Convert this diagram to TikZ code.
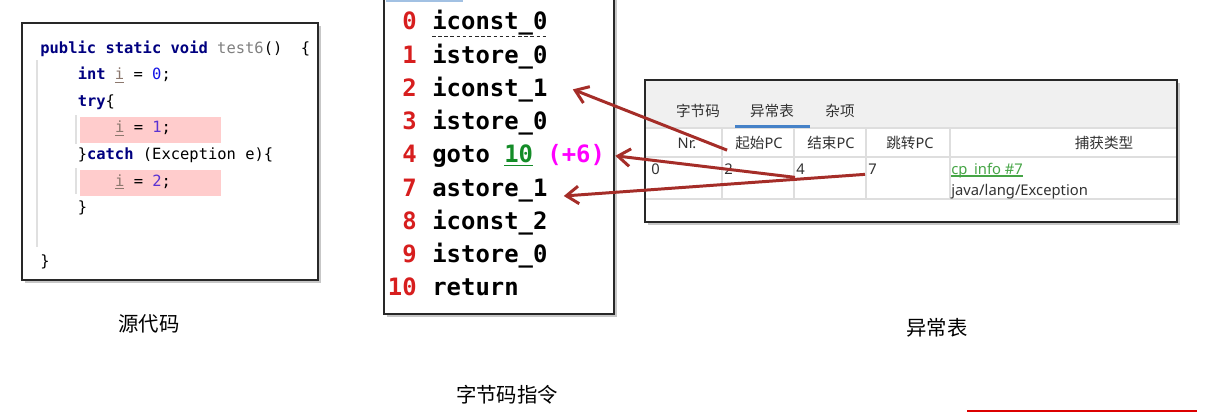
\documentclass[tikz,border=0pt]{standalone}
\usepackage{fontspec}
\usepackage{xcolor}
\setmainfont{Noto Sans}
\newfontfamily\cjk{Noto Sans CJK SC}
\newfontfamily\codefont{DejaVu Sans Mono}
\usetikzlibrary{arrows.meta,positioning,calc}
\definecolor{boxline}{RGB}{40,40,40}
\definecolor{kwblue}{RGB}{0,0,128}
\definecolor{numblue}{RGB}{20,20,230}
\definecolor{numpurple}{RGB}{90,50,210}
\definecolor{varbrown}{RGB}{140,120,110}
\definecolor{hlred}{RGB}{255,204,204}
\definecolor{bcred}{RGB}{215,30,30}
\definecolor{gotogreen}{RGB}{20,140,40}
\definecolor{offsetpink}{RGB}{255,0,255}
\definecolor{arrowred}{RGB}{165,45,40}
\definecolor{tabgray}{RGB}{240,240,240}
\definecolor{gridgray}{RGB}{222,222,222}
\definecolor{tabblue}{RGB}{70,130,200}
\definecolor{linkgreen}{RGB}{70,165,70}
\definecolor{tabtext}{RGB}{50,50,50}
\definecolor{markred}{RGB}{220,0,0}
\tikzset{
  panel/.style={draw=boxline, line width=1.6pt},
  panelshadow/.style={fill=black!22},
  src/.style={anchor=base west, inner sep=0pt,
              font=\codefont\fontsize{8.8}{10}\selectfont},
  bcnum/.style={anchor=base east, inner sep=0pt, text=bcred,
                font=\codefont\bfseries\fontsize{13.6}{16}\selectfont},
  bcins/.style={anchor=base west, inner sep=0pt,
                font=\codefont\bfseries\fontsize{13.6}{16}\selectfont},
  tablabel/.style={inner sep=0pt, text=tabtext, font=\cjk\fontsize{8.3}{10}\selectfont},
  hdr/.style={inner sep=0pt, text=tabtext, font=\fontsize{8.3}{10}\selectfont},
  tcell/.style={anchor=base west, inner sep=0pt, text=tabtext,
                font=\fontsize{8.4}{10}\selectfont},
  captext/.style={inner sep=0pt, font=\cjk\fontsize{11.6}{14}\selectfont},
  arr/.style={-{Straight Barb[length=7pt,width=10pt]}, line width=1.7pt, arrowred},
  gridline/.style={draw=gridgray, line width=1pt},
}
\begin{document}
\begin{tikzpicture}[x=0.02cm, y=-0.02cm]
  \useasboundingbox (0,0) rectangle (1230,419);

  % source code
  \fill[panelshadow] (25,26) rectangle (321,283);
  \fill[white] (22,23) rectangle (318,280);
  \fill[hlred] (80,117) rectangle (221,143);
  \fill[hlred] (80,170) rectangle (221,196);
  \draw[black!12, line width=0.6pt] (37,60) -- (37,247);
  \draw[black!12, line width=0.6pt] (76,115) -- (76,144) (76,168) -- (76,194);
  \draw[panel] (22,23) rectangle (318,280);
  \node[src] (sig) at (40,53)
        {\textcolor{kwblue}{\bfseries public static void} \textcolor{gray}{test6}()\ \ \{};
  \node[src] (decl) at (77.4,79.6)
        {\textcolor{kwblue}{\bfseries int} \textcolor{varbrown}{\underline{i}} = \textcolor{numblue}{0};};
  \node[src] (try) at (77.4,106.2) {\textcolor{kwblue}{\bfseries try}\{};
  \node[src] (set1) at (114.8,132.8)
        {\textcolor{varbrown}{\underline{i}} = \textcolor{numpurple}{1};};
  \node[src] (catch) at (77.4,159.4)
        {\}\textcolor{kwblue}{\bfseries catch} (Exception e)\{};
  \node[src] (set2) at (114.8,186)
        {\textcolor{varbrown}{\underline{i}} = \textcolor{numpurple}{2};};
  \node[src] (close1) at (77.4,212.6) {\}};
  \node[src] (close2) at (40,266) {\}};
  \node[captext] (srccap) at (149,324) {源代码};

  % bytecode
  \fill[panelshadow] (387,-5) rectangle (617,317);
  \fill[white] (384,-8) rectangle (614,314);
  \draw[panel] (384,-8) rectangle (614,314);
  \draw[tabblue!50, line width=1.2pt] (386,0.6) -- (463,0.6);
  \node[bcnum] (pc0) at (417,30) {0};
  \node[bcins] (op0) at (432,30) {iconst\_0};
  \node[bcnum] (pc1) at (417,63.2) {1};
  \node[bcins] (op1) at (432,63.2) {istore\_0};
  \node[bcnum] (pc2) at (417,96.4) {2};
  \node[bcins] (op2) at (432,96.4) {iconst\_1};
  \node[bcnum] (pc3) at (417,129.6) {3};
  \node[bcins] (op3) at (432,129.6) {istore\_0};
  \node[bcnum] (pc4) at (417,162.8) {4};
  \node[bcins] (op4) at (432,162.8)
        {goto \textcolor{gotogreen}{\underline{10}} \textcolor{offsetpink}{(+6)}};
  \node[bcnum] (pc7) at (417,196) {7};
  \node[bcins] (op7) at (432,196) {astore\_1};
  \node[bcnum] (pc8) at (417,229.2) {8};
  \node[bcins] (op8) at (432,229.2) {iconst\_2};
  \node[bcnum] (pc9) at (417,262.4) {9};
  \node[bcins] (op9) at (432,262.4) {istore\_0};
  \node[bcnum] (pc10) at (417,295.6) {10};
  \node[bcins] (op10) at (432,295.6) {return};
  \draw[boxline, dash pattern=on 2pt off 1.5pt, line width=0.7pt]
        ($(op0.base west)+(0,6.5)$) -- ($(op0.base east)+(0,6.5)$);
  \node[captext] (bccap) at (507,395) {字节码指令};

  % exception table
  \fill[panelshadow] (648,83) rectangle (1180,225);
  \fill[white] (645,80) rectangle (1177,222);
  \fill[tabgray] (646,81) rectangle (1176,127);
  \draw[gridline] (646,128) -- (1176,128) (646,157) -- (1176,157) (646,199) -- (1176,199);
  \draw[gridline] (722,128) -- (722,199) (794,128) -- (794,199)
                  (866,128) -- (866,199) (950,128) -- (950,199);
  \draw[panel] (645,80) rectangle (1177,222);
  \node[tablabel] (tabbc) at (698,111) {字节码};
  \node[tablabel] (tabex) at (772,111) {异常表};
  \node[tablabel] (tabmisc) at (840,111) {杂项};
  \draw[tabblue, line width=1.5pt] (735,126.5) -- (810,126.5);
  \node[hdr] (hnr) at (687,143) {Nr.};
  \node[hdr] (hstart) at (759,143) {{\cjk 起始}PC};
  \node[hdr] (hend) at (831,143) {{\cjk 结束}PC};
  \node[hdr] (hjump) at (910,143) {{\cjk 跳转}PC};
  \node[hdr] (htype) at (1104,143) {\cjk 捕获类型};
  \node[tcell] (vnr) at (651,174) {0};
  \node[tcell] (vstart) at (724,174) {2};
  \node[tcell] (vend) at (796,174) {4};
  \node[tcell] (vjump) at (868,174) {7};
  \node[tcell, text=linkgreen] (vlink) at (951,174) {cp\_info \#7};
  \node[tcell] (vclass) at (951,195) {java/lang/Exception};
  \draw[linkgreen, line width=0.8pt]
        ($(vlink.base west)+(0,2)$) -- ($(vlink.base east)+(0,2)$);
  \node[captext] (tblcap) at (937,328) {异常表};

  % table -> bytecode
  \draw[arr] ($(hstart.south west)+(-8,0)$) -- ($(op2.base east)+(25,-7)$);
  \draw[arr] ($(vend.south west)+(-1,3)$) -- ($(op4.base east)+(10,-7)$);
  \draw[arr] ($(vjump.south west)+(-3,0)$) -- ($(op7.base east)+(16,0)$);

  \draw[markred, line width=1.2pt] (967,411) -- (1197,411);
\end{tikzpicture}
\end{document}
